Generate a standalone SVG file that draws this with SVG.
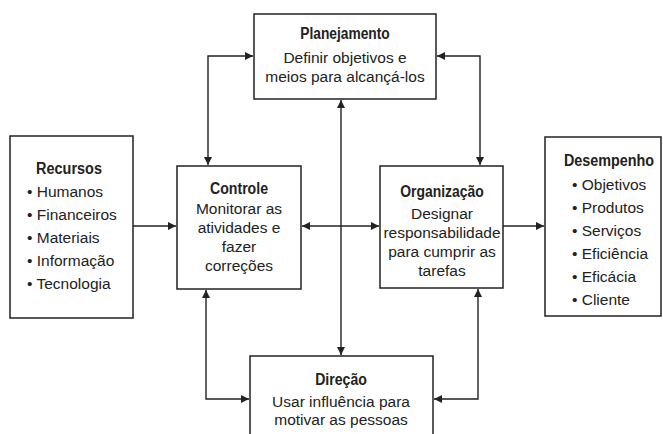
<svg xmlns="http://www.w3.org/2000/svg" width="663" height="434" viewBox="0 0 663 434">
<style>
.box{fill:#fff;stroke:#222;stroke-width:1.5}
.t{font-family:"Liberation Sans",Arial,sans-serif;font-weight:bold;font-size:17px;fill:#222;text-anchor:middle}
.b{font-family:"Liberation Sans",Arial,sans-serif;font-size:15.5px;fill:#222;text-anchor:middle}
.l{font-family:"Liberation Sans",Arial,sans-serif;font-size:15.5px;fill:#222}
.c{fill:none;stroke:#222;stroke-width:1.4}
</style>
<defs>
<marker id="ah" viewBox="0 0 10 10" refX="10" refY="5" markerWidth="8" markerHeight="8" markerUnits="userSpaceOnUse" orient="auto-start-reverse">
<path d="M0,0 L10,5 L0,10 Z" fill="#222"/>
</marker>
</defs>
<rect width="663" height="434" fill="#fff"/>
<g id="connectors">
<path class="c" d="M133,226 H176" marker-end="url(#ah)"/>
<path class="c" d="M302,226 H379" marker-start="url(#ah)" marker-end="url(#ah)"/>
<path class="c" d="M503,226 H544" marker-end="url(#ah)"/>
<path class="c" d="M341,100 V355" marker-start="url(#ah)" marker-end="url(#ah)"/>
<path class="c" d="M208,165 V56 H253" marker-start="url(#ah)" marker-end="url(#ah)"/>
<path class="c" d="M437,56 H480 V165" marker-start="url(#ah)" marker-end="url(#ah)"/>
<path class="c" d="M206,290 V399 H249" marker-start="url(#ah)" marker-end="url(#ah)"/>
<path class="c" d="M478,289 V399 H434" marker-start="url(#ah)" marker-end="url(#ah)"/>
</g>
<g id="planejamento">
<rect class="box" x="254" y="14" width="182" height="85"/>
<text class="t" transform="translate(345,39) scale(0.81,1)">Planejamento</text>
<text class="b" x="345" y="63">Definir objetivos e</text>
<text class="b" x="345" y="82">meios para alcançá-los</text>
</g>
<g id="recursos">
<rect class="box" x="10" y="136" width="123" height="182"/>
<text class="t" transform="translate(69,174) scale(0.85,1)">Recursos</text>
<text class="l" x="27" y="197">• Humanos</text>
<text class="l" x="27" y="220">• Financeiros</text>
<text class="l" x="27" y="243">• Materiais</text>
<text class="l" x="27" y="266">• Informação</text>
<text class="l" x="27" y="289">• Tecnologia</text>
</g>
<g id="controle">
<rect class="box" x="177" y="166" width="124" height="123"/>
<text class="t" transform="translate(239,194) scale(0.83,1)">Controle</text>
<text class="b" x="239" y="214">Monitorar as</text>
<text class="b" x="239" y="233">atividades e</text>
<text class="b" x="239" y="252">fazer</text>
<text class="b" x="239" y="271">correções</text>
</g>
<g id="organizacao">
<rect class="box" x="380" y="166" width="123" height="122"/>
<text class="t" transform="translate(442,197) scale(0.82,1)">Organização</text>
<text class="b" x="442" y="219">Designar</text>
<text class="b" x="442" y="238">responsabilidade</text>
<text class="b" x="442" y="257">para cumprir as</text>
<text class="b" x="442" y="276">tarefas</text>
</g>
<g id="desempenho">
<rect class="box" x="545" y="137" width="116" height="179"/>
<text class="t" transform="translate(609,166) scale(0.845,1)">Desempenho</text>
<text class="l" x="572" y="190">• Objetivos</text>
<text class="l" x="572" y="213">• Produtos</text>
<text class="l" x="572" y="236">• Serviços</text>
<text class="l" x="572" y="259">• Eficiência</text>
<text class="l" x="572" y="282">• Eficácia</text>
<text class="l" x="572" y="305">• Cliente</text>
</g>
<g id="direcao">
<rect class="box" x="250" y="356" width="183" height="100"/>
<text class="t" transform="translate(341,385) scale(0.83,1)">Direção</text>
<text class="b" x="341" y="407">Usar influência para</text>
<text class="b" x="341" y="425">motivar as pessoas</text>
</g>
</svg>
